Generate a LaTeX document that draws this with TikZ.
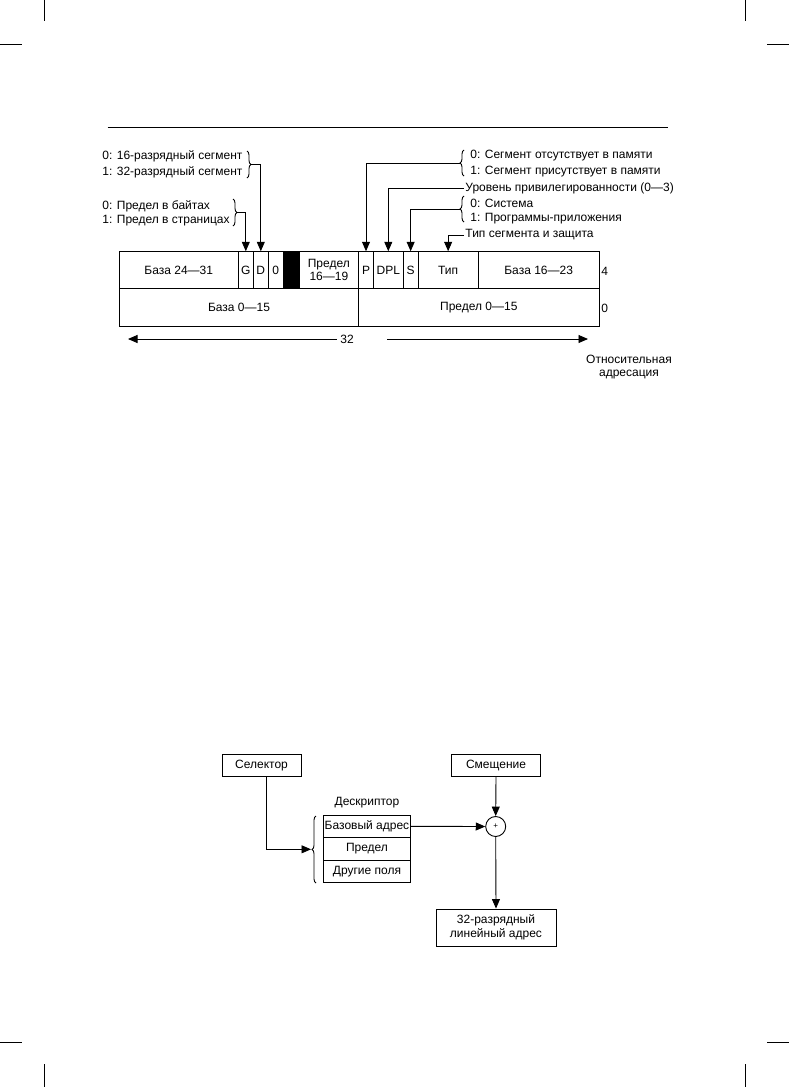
\documentclass[tikz,border=0pt]{standalone}
\usepackage{fontspec}
\setmainfont{Liberation Sans}
\usetikzlibrary{arrows.meta,decorations.pathreplacing}

\begin{document}
\begin{tikzpicture}[x=1pt, y=-1pt, line width=0.9pt,
  font=\fontsize{12}{13.8}\selectfont, >={Triangle[width=8pt,length=9.5pt]},
  cell/.style={draw, minimum height=36.6pt, inner sep=0pt, align=center},
  box/.style={draw, inner sep=0pt, align=center, minimum height=22.5pt},
  note/.style={anchor=west, inner sep=1pt},
  brc/.style={decorate, decoration={brace, amplitude=4pt}},
  crop/.style={line width=0.7pt}]
  \useasboundingbox (0,0) rectangle (789,1087);
  \draw[crop] (44,0) -- (44,21) (0,44) -- (22,44);
  \draw[crop] (745,0) -- (745,21) (767,44) -- (789,44);
  \draw[crop] (44,1064) -- (44,1087) (0,1042) -- (22,1042);
  \draw[crop] (745,1064) -- (745,1087) (767,1042) -- (789,1042);
  \draw[line width=1pt] (107.5,127.3) -- (668.3,127.3);

  \node[cell, minimum width=119pt] (b2431) at (178.8,270) {База 24—31};
  \node[cell, minimum width=15pt] (G) at (245.8,270) {G};
  \node[cell, minimum width=15pt] (D) at (260.8,270) {D};
  \node[cell, minimum width=14.7pt] (zero) at (275.65,270) {0};
  \node[cell, minimum width=16pt, fill=black] (avl) at (291,270) {};
  \node[cell, minimum width=59.7pt] (lim1619) at (328.85,270) {Предел\\16—19};
  \node[cell, minimum width=14.6pt] (P) at (366,270) {P};
  \node[cell, minimum width=30pt] (DPL) at (388.3,270) {DPL};
  \node[cell, minimum width=14.7pt] (S) at (410.65,270) {S};
  \node[cell, minimum width=60.3pt] (typ) at (448.15,270) {Тип};
  \node[cell, minimum width=120.7pt] (b1623) at (538.65,270) {База 16—23};
  \node[cell, minimum width=239.4pt, minimum height=37.7pt] (b015) at (239,307.2) {База 0—15};
  \node[cell, minimum width=240.3pt, minimum height=37.7pt] (lim015) at (478.85,307.2) {Предел 0—15};
  \node[note] (r4) at (600,271) {4};
  \node[note] (r0) at (600,308) {0};

  \node[note] (seg16) at (101,156.5) {0: 16-разрядный сегмент};
  \node[note] (seg32) at (101,172.5) {1: 32-разрядный сегмент};
  \node[note] (limb) at (101,206) {0: Предел в байтах};
  \node[note] (limp) at (101,220.5) {1: Предел в страницах};
  \node[note] (pnot) at (469,156) {0: Сегмент отсутствует в памяти};
  \node[note] (pyes) at (469,171.5) {1: Сегмент присутствует в памяти};
  \node[note] (dpltxt) at (464,188.5) {Уровень привилегированности (0—3)};
  \node[note] (sys) at (469,203.5) {0: Система};
  \node[note] (app) at (469,219) {1: Программы-приложения};
  \node[note] (typtxt) at (464,235) {Тип сегмента и защита};

  \draw[brc] (247,151) -- (247,178);
  \draw[brc] (233,199) -- (233,226);
  \draw[brc] (464,176) -- (464,150);
  \draw[brc] (464,222) -- (464,196);
  \coordinate (k16) at (251,164.5);
  \coordinate (kpg) at (237,212.5);
  \coordinate (kp) at (460,163);
  \coordinate (ks) at (460,209);
  \draw[->] (k16) -| (D.north);
  \draw[->] (kpg) -| (G.north);
  \draw[->] (kp) -| (P.north);
  \draw[->] (dpltxt.west) -| (DPL.north);
  \draw[->] (ks) -| (S.north);
  \draw[->] (typtxt.west) -| (typ.north);

  \node (w32) at (347,339) {32};
  \coordinate (l32) at (128,339);
  \coordinate (s32) at (387,339);
  \coordinate (e32) at (588,339);
  \draw[->] (w32.west) -- (l32);
  \draw[->] (s32) -- (e32);
  \node[align=center] (rel) at (629,367) {Относительная\\адресация};

  \node[box, minimum width=79pt] (sel) at (261.5,765.5) {Селектор};
  \node[box, minimum width=89.5pt] (off) at (496,765.5) {Смещение};
  \node (dlbl) at (367,803) {Дескриптор};
  \node[box, minimum width=87.4pt] (dbase) at (367,826.3) {Базовый адрес};
  \node[box, minimum width=87.4pt] (dlim) at (367,848.8) {Предел};
  \node[box, minimum width=87.4pt] (doth) at (367,871.3) {Другие поля};
  \draw[brc] (316,883) -- (316,816);
  \coordinate (dtip) at (311,849.3);
  \node[draw, circle, minimum size=20pt, inner sep=0pt, font=\footnotesize] (sum) at (495.7,826.5) {+};
  \node[box, minimum width=120pt, minimum height=37pt] (lin) at (496,927.5) {32-разрядный\\линейный адрес};
  \draw[->] ([xshift=5pt]sel.south) |- (dtip);
  \draw[->] (dbase.east) -- (sum.west);
  \draw[->] (off.south) -- (sum.north);
  \draw[->] (sum.south) -- (lin.north);
\end{tikzpicture}
\end{document}
